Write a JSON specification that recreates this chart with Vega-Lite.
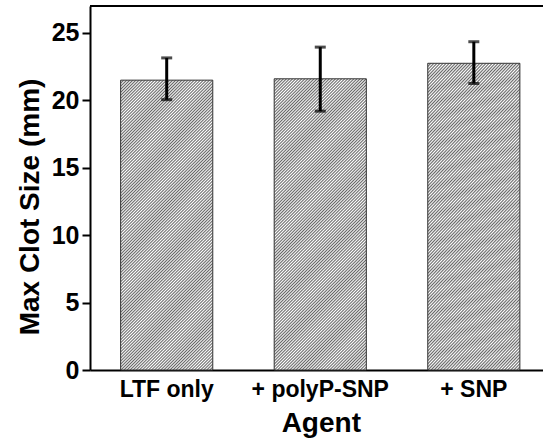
{
  "$schema": "https://vega.github.io/schema/vega-lite/v6.json",
  "width": 453,
  "height": 364,
  "autosize": "none",
  "padding": {"left": 90, "top": 6, "right": 0, "bottom": 74},
  "background": "white",
  "config": {
    "view": {"stroke": null},
    "font": "Liberation Sans",
    "axis": {"domainColor": "black", "domainWidth": 2, "labelColor": "black", "titleColor": "black", "tickColor": "black", "grid": false, "labelFont": "Liberation Sans", "titleFont": "Liberation Sans", "labelFontWeight": "bold", "titleFontWeight": "bold"}
  },
  "data": {"values": [
    {"agent": "LTF only", "mean": 21.5, "lo": 20.05, "hi": 23.15},
    {"agent": "+ polyP-SNP", "mean": 21.6, "lo": 19.2, "hi": 23.95},
    {"agent": "+ SNP", "mean": 22.75, "lo": 21.25, "hi": 24.35}
  ]},
  "layer": [
    {
      "mark": {"type": "bar", "stroke": "#333", "strokeWidth": 1,
        "fill": {"gradient": "linear", "x1": 0, "y1": 0, "x2": 0.379, "y2": 1.197, "stops": [
{"offset":0,"color":"#666"},{"offset":0.004,"color":"#fff"},{"offset":0.008,"color":"#666"},{"offset":0.012,"color":"#fff"},{"offset":0.016,"color":"#666"},{"offset":0.02,"color":"#fff"},{"offset":0.024,"color":"#666"},{"offset":0.028,"color":"#fff"},{"offset":0.032,"color":"#666"},{"offset":0.036,"color":"#fff"},
{"offset":0.04,"color":"#666"},{"offset":0.044,"color":"#fff"},{"offset":0.048,"color":"#666"},{"offset":0.052,"color":"#fff"},{"offset":0.056,"color":"#666"},{"offset":0.06,"color":"#fff"},{"offset":0.064,"color":"#666"},{"offset":0.068,"color":"#fff"},{"offset":0.072,"color":"#666"},{"offset":0.076,"color":"#fff"},
{"offset":0.08,"color":"#666"},{"offset":0.084,"color":"#fff"},{"offset":0.088,"color":"#666"},{"offset":0.092,"color":"#fff"},{"offset":0.096,"color":"#666"},{"offset":0.1,"color":"#fff"},{"offset":0.104,"color":"#666"},{"offset":0.108,"color":"#fff"},{"offset":0.112,"color":"#666"},{"offset":0.116,"color":"#fff"},
{"offset":0.12,"color":"#666"},{"offset":0.124,"color":"#fff"},{"offset":0.128,"color":"#666"},{"offset":0.132,"color":"#fff"},{"offset":0.136,"color":"#666"},{"offset":0.14,"color":"#fff"},{"offset":0.144,"color":"#666"},{"offset":0.148,"color":"#fff"},{"offset":0.152,"color":"#666"},{"offset":0.156,"color":"#fff"},
{"offset":0.16,"color":"#666"},{"offset":0.164,"color":"#fff"},{"offset":0.168,"color":"#666"},{"offset":0.172,"color":"#fff"},{"offset":0.176,"color":"#666"},{"offset":0.18,"color":"#fff"},{"offset":0.184,"color":"#666"},{"offset":0.188,"color":"#fff"},{"offset":0.192,"color":"#666"},{"offset":0.196,"color":"#fff"},
{"offset":0.2,"color":"#666"},{"offset":0.204,"color":"#fff"},{"offset":0.208,"color":"#666"},{"offset":0.212,"color":"#fff"},{"offset":0.216,"color":"#666"},{"offset":0.22,"color":"#fff"},{"offset":0.224,"color":"#666"},{"offset":0.228,"color":"#fff"},{"offset":0.232,"color":"#666"},{"offset":0.236,"color":"#fff"},
{"offset":0.24,"color":"#666"},{"offset":0.244,"color":"#fff"},{"offset":0.248,"color":"#666"},{"offset":0.252,"color":"#fff"},{"offset":0.256,"color":"#666"},{"offset":0.26,"color":"#fff"},{"offset":0.264,"color":"#666"},{"offset":0.268,"color":"#fff"},{"offset":0.272,"color":"#666"},{"offset":0.276,"color":"#fff"},
{"offset":0.28,"color":"#666"},{"offset":0.284,"color":"#fff"},{"offset":0.288,"color":"#666"},{"offset":0.292,"color":"#fff"},{"offset":0.296,"color":"#666"},{"offset":0.3,"color":"#fff"},{"offset":0.304,"color":"#666"},{"offset":0.308,"color":"#fff"},{"offset":0.312,"color":"#666"},{"offset":0.316,"color":"#fff"},
{"offset":0.32,"color":"#666"},{"offset":0.324,"color":"#fff"},{"offset":0.328,"color":"#666"},{"offset":0.332,"color":"#fff"},{"offset":0.336,"color":"#666"},{"offset":0.34,"color":"#fff"},{"offset":0.344,"color":"#666"},{"offset":0.348,"color":"#fff"},{"offset":0.352,"color":"#666"},{"offset":0.356,"color":"#fff"},
{"offset":0.36,"color":"#666"},{"offset":0.364,"color":"#fff"},{"offset":0.368,"color":"#666"},{"offset":0.372,"color":"#fff"},{"offset":0.376,"color":"#666"},{"offset":0.38,"color":"#fff"},{"offset":0.384,"color":"#666"},{"offset":0.388,"color":"#fff"},{"offset":0.392,"color":"#666"},{"offset":0.396,"color":"#fff"},
{"offset":0.4,"color":"#666"},{"offset":0.404,"color":"#fff"},{"offset":0.408,"color":"#666"},{"offset":0.412,"color":"#fff"},{"offset":0.416,"color":"#666"},{"offset":0.42,"color":"#fff"},{"offset":0.424,"color":"#666"},{"offset":0.428,"color":"#fff"},{"offset":0.432,"color":"#666"},{"offset":0.436,"color":"#fff"},
{"offset":0.44,"color":"#666"},{"offset":0.444,"color":"#fff"},{"offset":0.448,"color":"#666"},{"offset":0.452,"color":"#fff"},{"offset":0.456,"color":"#666"},{"offset":0.46,"color":"#fff"},{"offset":0.464,"color":"#666"},{"offset":0.468,"color":"#fff"},{"offset":0.472,"color":"#666"},{"offset":0.476,"color":"#fff"},
{"offset":0.48,"color":"#666"},{"offset":0.484,"color":"#fff"},{"offset":0.488,"color":"#666"},{"offset":0.492,"color":"#fff"},{"offset":0.496,"color":"#666"},{"offset":0.5,"color":"#fff"},{"offset":0.504,"color":"#666"},{"offset":0.508,"color":"#fff"},{"offset":0.512,"color":"#666"},{"offset":0.516,"color":"#fff"},
{"offset":0.52,"color":"#666"},{"offset":0.524,"color":"#fff"},{"offset":0.528,"color":"#666"},{"offset":0.532,"color":"#fff"},{"offset":0.536,"color":"#666"},{"offset":0.54,"color":"#fff"},{"offset":0.544,"color":"#666"},{"offset":0.548,"color":"#fff"},{"offset":0.552,"color":"#666"},{"offset":0.556,"color":"#fff"},
{"offset":0.56,"color":"#666"},{"offset":0.564,"color":"#fff"},{"offset":0.568,"color":"#666"},{"offset":0.572,"color":"#fff"},{"offset":0.576,"color":"#666"},{"offset":0.58,"color":"#fff"},{"offset":0.584,"color":"#666"},{"offset":0.588,"color":"#fff"},{"offset":0.592,"color":"#666"},{"offset":0.596,"color":"#fff"},
{"offset":0.6,"color":"#666"},{"offset":0.604,"color":"#fff"},{"offset":0.608,"color":"#666"},{"offset":0.612,"color":"#fff"},{"offset":0.616,"color":"#666"},{"offset":0.62,"color":"#fff"},{"offset":0.624,"color":"#666"},{"offset":0.628,"color":"#fff"},{"offset":0.632,"color":"#666"},{"offset":0.636,"color":"#fff"},
{"offset":0.64,"color":"#666"},{"offset":0.644,"color":"#fff"},{"offset":0.648,"color":"#666"},{"offset":0.652,"color":"#fff"},{"offset":0.656,"color":"#666"},{"offset":0.66,"color":"#fff"},{"offset":0.664,"color":"#666"},{"offset":0.668,"color":"#fff"},{"offset":0.672,"color":"#666"},{"offset":0.676,"color":"#fff"},
{"offset":0.68,"color":"#666"},{"offset":0.684,"color":"#fff"},{"offset":0.688,"color":"#666"},{"offset":0.692,"color":"#fff"},{"offset":0.696,"color":"#666"},{"offset":0.7,"color":"#fff"},{"offset":0.704,"color":"#666"},{"offset":0.708,"color":"#fff"},{"offset":0.712,"color":"#666"},{"offset":0.716,"color":"#fff"},
{"offset":0.72,"color":"#666"},{"offset":0.724,"color":"#fff"},{"offset":0.728,"color":"#666"},{"offset":0.732,"color":"#fff"},{"offset":0.736,"color":"#666"},{"offset":0.74,"color":"#fff"},{"offset":0.744,"color":"#666"},{"offset":0.748,"color":"#fff"},{"offset":0.752,"color":"#666"},{"offset":0.756,"color":"#fff"},
{"offset":0.76,"color":"#666"},{"offset":0.764,"color":"#fff"},{"offset":0.768,"color":"#666"},{"offset":0.772,"color":"#fff"},{"offset":0.776,"color":"#666"},{"offset":0.78,"color":"#fff"},{"offset":0.784,"color":"#666"},{"offset":0.788,"color":"#fff"},{"offset":0.792,"color":"#666"},{"offset":0.796,"color":"#fff"},
{"offset":0.8,"color":"#666"},{"offset":0.804,"color":"#fff"},{"offset":0.808,"color":"#666"},{"offset":0.812,"color":"#fff"},{"offset":0.816,"color":"#666"},{"offset":0.82,"color":"#fff"},{"offset":0.824,"color":"#666"},{"offset":0.828,"color":"#fff"},{"offset":0.832,"color":"#666"},{"offset":0.836,"color":"#fff"},
{"offset":0.84,"color":"#666"},{"offset":0.844,"color":"#fff"},{"offset":0.848,"color":"#666"},{"offset":0.852,"color":"#fff"},{"offset":0.856,"color":"#666"},{"offset":0.86,"color":"#fff"},{"offset":0.864,"color":"#666"},{"offset":0.868,"color":"#fff"},{"offset":0.872,"color":"#666"},{"offset":0.876,"color":"#fff"},
{"offset":0.88,"color":"#666"},{"offset":0.884,"color":"#fff"},{"offset":0.888,"color":"#666"},{"offset":0.892,"color":"#fff"},{"offset":0.896,"color":"#666"},{"offset":0.9,"color":"#fff"},{"offset":0.904,"color":"#666"},{"offset":0.908,"color":"#fff"},{"offset":0.912,"color":"#666"},{"offset":0.916,"color":"#fff"},
{"offset":0.92,"color":"#666"},{"offset":0.924,"color":"#fff"},{"offset":0.928,"color":"#666"},{"offset":0.932,"color":"#fff"},{"offset":0.936,"color":"#666"},{"offset":0.94,"color":"#fff"},{"offset":0.944,"color":"#666"},{"offset":0.948,"color":"#fff"},{"offset":0.952,"color":"#666"},{"offset":0.956,"color":"#fff"},
{"offset":0.96,"color":"#666"},{"offset":0.964,"color":"#fff"},{"offset":0.968,"color":"#666"},{"offset":0.972,"color":"#fff"},{"offset":0.976,"color":"#666"},{"offset":0.98,"color":"#fff"},{"offset":0.984,"color":"#666"},{"offset":0.988,"color":"#fff"},{"offset":0.992,"color":"#666"},{"offset":0.996,"color":"#fff"},
{"offset":1,"color":"#666"}
        ]}},
      "encoding": {
        "x": {"field": "agent", "type": "nominal", "sort": null,
          "scale": {"paddingInner": 0.4, "paddingOuter": 0.175, "align": 0.57},
          "axis": {"title": "Agent", "labelAngle": 0, "labelFontSize": 23, "labelPadding": 8, "ticks": false, "titleFontSize": 28, "titleX": 230.8, "titleY": 61, "titleBaseline": "alphabetic"}},
        "y": {"field": "mean", "type": "quantitative",
          "scale": {"domain": [0, 27], "nice": false, "zero": true},
          "axis": {"title": "Max Clot Size (mm)", "values": [0, 5, 10, 15, 20, 25], "tickSize": 8, "tickWidth": 2, "labelFontSize": 25, "labelPadding": 3, "titleFontSize": 28, "titleAngle": -90, "titleX": -52, "titleY": 200.5, "titleBaseline": "alphabetic", "titleAlign": "center"}}
      }
    },
    {
      "mark": {"type": "rule", "color": "black", "strokeWidth": 3},
      "encoding": {"x": {"field": "agent", "type": "nominal", "sort": null}, "y": {"field": "lo", "type": "quantitative"}, "y2": {"field": "hi"}}
    },
    {
      "mark": {"type": "tick", "color": "black", "thickness": 3, "size": 11, "orient": "horizontal"},
      "encoding": {"x": {"field": "agent", "type": "nominal", "sort": null}, "y": {"field": "hi", "type": "quantitative"}}
    },
    {
      "mark": {"type": "tick", "color": "black", "thickness": 3, "size": 11, "orient": "horizontal"},
      "encoding": {"x": {"field": "agent", "type": "nominal", "sort": null}, "y": {"field": "lo", "type": "quantitative"}}
    },
    {
      "mark": {"type": "rule", "color": "black", "strokeWidth": 2},
      "encoding": {"y": {"datum": 27}}
    }
  ]
}
